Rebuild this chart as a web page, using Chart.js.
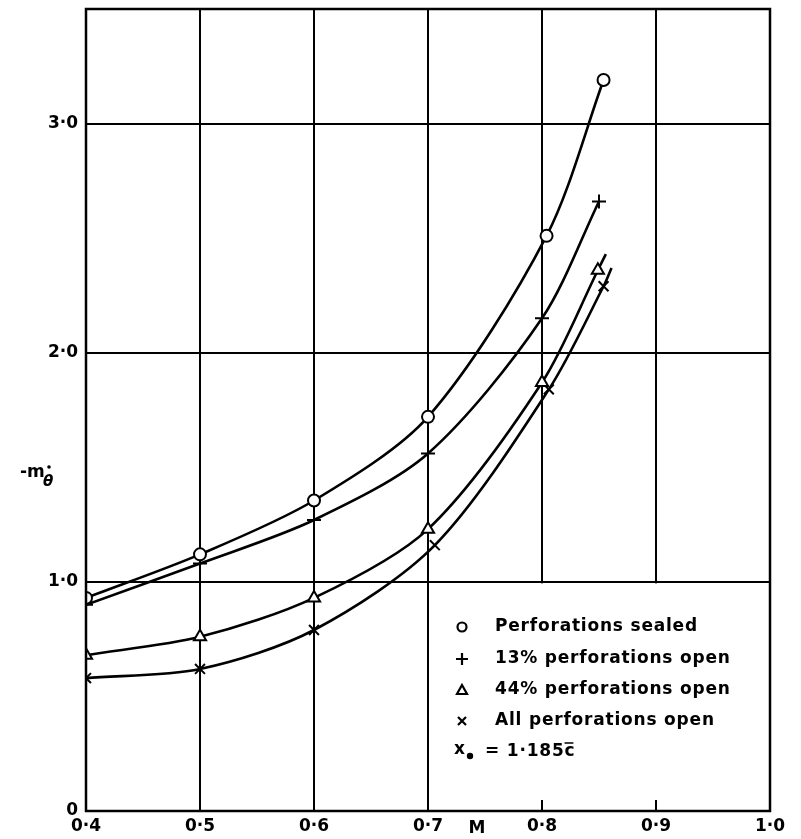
<!DOCTYPE html>
<html>
<head>
<meta charset="utf-8">
<script src="https://cdn.jsdelivr.net/npm/chart.js@4.4.3/dist/chart.umd.min.js"></script>
<style>
html, body { margin: 0; padding: 0; background: #fff; }
#wrap { width: 801px; height: 839px; }
</style>
</head>
<body>
<div id="wrap"><canvas id="chart" width="801" height="839"></canvas></div>
<script>
// values: Mach number vs -m_theta-dot
const machSealed = [0.4, 0.5, 0.6, 0.7, 0.804, 0.854];
const valSealed  = [0.93, 1.12, 1.355, 1.72, 2.51, 3.19];
const mach13 = [0.4, 0.5, 0.6, 0.7, 0.8, 0.85];
const val13  = [0.90, 1.08, 1.27, 1.56, 2.15, 2.66];
// last point of the next two is just where the faired curve stops (no marker)
const mach44 = [0.4, 0.5, 0.6, 0.7, 0.8, 0.849, 0.856];
const val44  = [0.68, 0.76, 0.93, 1.23, 1.87, 2.36, 2.43];
const machAll = [0.4, 0.5, 0.6, 0.706, 0.806, 0.854, 0.861];
const valAll  = [0.58, 0.62, 0.79, 1.16, 1.84, 2.29, 2.37];

const legendLabels = ['Perforations sealed', '13% perforations open', '44% perforations open', 'All perforations open'];
const FONT = '"DejaVu Sans", sans-serif';

function pts(xs, ys) {
    return xs.map((x, i) => ({ x: x, y: ys[i] }));
}
function fmt(v) {
    return v.toFixed(1).replace('.', '\u00b7');
}

function serie(label, xs, ys, style, r) {
    return {
        label: label,
        data: pts(xs, ys),
        showLine: true,
        borderColor: '#000',
        borderWidth: 2.6,
        backgroundColor: '#fff',
        pointStyle: style,
        pointRadius: xs.map((x, i) => (i < valSealed.length ? r : 0)),
        pointBorderWidth: 2,
        pointBorderColor: '#000',
        pointBackgroundColor: '#fff',
        tension: 0.3,
        fill: false
    };
}

// the legend box sits in the lower right: gridlines stop there
const overlay = {
    id: 'overlay',
    beforeDatasetsDraw(chart) {
        const { ctx, scales: { x, y }, chartArea: a } = chart;
        ctx.save();
        ctx.fillStyle = '#fff';
        const x0 = x.getPixelForValue(0.7) + 1.5;
        const y0 = y.getPixelForValue(1.0) + 1.5;
        ctx.fillRect(x0, y0, a.right - 1.5 - x0, a.bottom - 1.5 - y0);
        ctx.strokeStyle = '#000';
        ctx.lineWidth = 2;
        [0.8, 0.9].forEach(v => {
            const px = x.getPixelForValue(v);
            ctx.beginPath();
            ctx.moveTo(px, a.bottom);
            ctx.lineTo(px, a.bottom - 11);
            ctx.stroke();
        });
        ctx.restore();
    },
    afterDraw(chart) {
        const { ctx, chartArea: a } = chart;
        ctx.save();
        ctx.strokeStyle = '#000';
        ctx.lineWidth = 2.5;
        ctx.strokeRect(a.left, a.top, a.right - a.left, a.bottom - a.top);

        // legend
        const sx = 462, tx = 495;
        const rows = [627, 659, 690, 721, 752];
        ctx.fillStyle = '#000';
        ctx.font = 'bold 17px ' + FONT;
        ctx.letterSpacing = '0.8px';
        ctx.textBaseline = 'middle';
        ctx.textAlign = 'left';
        legendLabels.forEach((t, i) => ctx.fillText(t, tx, rows[i]));

        ctx.lineWidth = 2.2;
        // circle
        ctx.beginPath();
        ctx.arc(sx, rows[0], 4.5, 0, Math.PI * 2);
        ctx.stroke();
        // plus
        ctx.beginPath();
        ctx.moveTo(sx - 6, rows[1]); ctx.lineTo(sx + 6, rows[1]);
        ctx.moveTo(sx, rows[1] - 6); ctx.lineTo(sx, rows[1] + 6);
        ctx.stroke();
        // triangle
        ctx.beginPath();
        ctx.moveTo(sx, rows[2] - 5);
        ctx.lineTo(sx + 5, rows[2] + 4);
        ctx.lineTo(sx - 5, rows[2] + 4);
        ctx.closePath();
        ctx.stroke();
        // x
        ctx.beginPath();
        ctx.moveTo(sx - 4, rows[3] - 4); ctx.lineTo(sx + 4, rows[3] + 4);
        ctx.moveTo(sx + 4, rows[3] - 4); ctx.lineTo(sx - 4, rows[3] + 4);
        ctx.stroke();

        // x_o = 1.185 c-bar
        ctx.fillText('x', 454, rows[4] - 2);
        ctx.beginPath();
        ctx.arc(470, rows[4] + 4, 3.2, 0, Math.PI * 2);
        ctx.fill();
        ctx.fillText('= 1\u00b7185c', 485, rows[4]);
        const cw = ctx.measureText('= 1\u00b7185c').width;
        const cc = ctx.measureText('c').width;
        ctx.lineWidth = 1.5;
        ctx.beginPath();
        ctx.moveTo(485 + cw - cc, rows[4] - 9);
        ctx.lineTo(485 + cw - 2, rows[4] - 9);
        ctx.stroke();
        ctx.letterSpacing = '0px';

        // axis titles
        ctx.font = 'bold 17px ' + FONT;
        ctx.fillText('-m', 20, 473);
        ctx.font = 'italic bold 15px ' + FONT;
        ctx.fillText('\u03b8', 43, 482);
        ctx.beginPath();
        ctx.arc(49, 467, 1.8, 0, Math.PI * 2);
        ctx.fill();
        ctx.font = 'bold 17px ' + FONT;
        ctx.textAlign = 'center';
        ctx.fillText('M', 477, 829);
        ctx.restore();
    }
};

new Chart(document.getElementById('chart'), {
    type: 'scatter',
    data: {
        datasets: [
            serie(legendLabels[0], machSealed, valSealed, 'circle', 6),
            serie(legendLabels[1], mach13, val13, 'cross', 7),
            serie(legendLabels[2], mach44, val44, 'triangle', 7),
            serie(legendLabels[3], machAll, valAll, 'crossRot', 7)
        ]
    },
    options: {
        responsive: false,
        animation: false,
        devicePixelRatio: 1,
        layout: { padding: { top: 6, right: 31, left: 0, bottom: 0 } },
        plugins: {
            legend: { display: false },
            tooltip: { enabled: false }
        },
        scales: {
            x: {
                type: 'linear',
                min: 0.4,
                max: 1.0,
                afterFit: s => { s.height = 28; s.paddingLeft = 0; s.paddingRight = 0; },
                border: { display: false },
                grid: { color: '#000', lineWidth: 2, drawTicks: false },
                ticks: {
                    stepSize: 0.1,
                    padding: 5,
                    color: '#000',
                    font: { family: FONT, size: 17, weight: 'bold' },
                    callback: v => fmt(v)
                }
            },
            y: {
                type: 'linear',
                min: 0,
                max: 3.5,
                afterFit: s => { s.width = 86; s.paddingTop = 0; s.paddingBottom = 0; },
                border: { display: false },
                grid: { color: '#000', lineWidth: 2, drawTicks: false },
                ticks: {
                    stepSize: 1,
                    padding: 8,
                    color: '#000',
                    font: { family: FONT, size: 17, weight: 'bold' },
                    callback: v => (v === 0 ? '0' : (v > 3.2 ? '' : fmt(v)))
                }
            }
        }
    },
    plugins: [overlay]
});
</script>
</body>
</html>
